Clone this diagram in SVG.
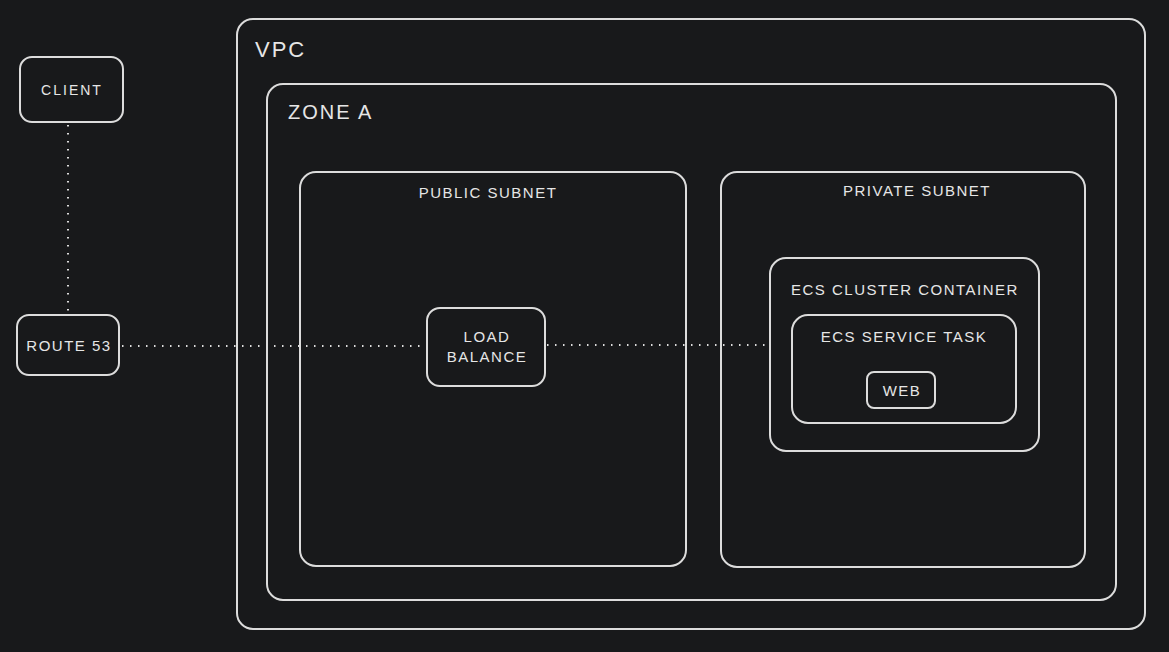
<svg xmlns="http://www.w3.org/2000/svg" width="1169" height="652" viewBox="0 0 1169 652">
<style>
.box{fill:none;stroke:#dcdcdc;stroke-width:2}
.t{fill:#e6e6e6;font-family:"Liberation Sans",Arial,sans-serif;text-anchor:middle;font-size:15px;letter-spacing:1.5px}
.tl{fill:#e6e6e6;font-family:"Liberation Sans",Arial,sans-serif;letter-spacing:2px}
.dot{fill:none;stroke:#dcdcdc;stroke-width:2;stroke-dasharray:1.5 6.5}
</style>
<rect width="1169" height="652" fill="#18191b"/>
<g id="connectors">
<line class="dot" x1="68" y1="125" x2="68" y2="314"/>
<line class="dot" x1="122" y1="346" x2="427" y2="346"/>
<line class="dot" x1="547" y1="345" x2="770" y2="345"/>
</g>
<g id="vpc">
<rect class="box" x="237" y="19" width="908" height="610" rx="16"/>
<text class="tl" x="255" y="57" font-size="22">VPC</text>
</g>
<g id="zone-a">
<rect class="box" x="267" y="84" width="849" height="516" rx="16"/>
<text class="tl" x="288" y="119" font-size="20">ZONE A</text>
</g>
<g id="public-subnet">
<rect class="box" x="300" y="172" width="386" height="394" rx="16"/>
<text class="t" x="488" y="198">PUBLIC SUBNET</text>
</g>
<g id="private-subnet">
<rect class="box" x="721" y="172" width="364" height="395" rx="16"/>
<text class="t" x="917" y="196">PRIVATE SUBNET</text>
</g>
<g id="ecs-cluster">
<rect class="box" x="770" y="258" width="269" height="193" rx="16"/>
<text class="t" x="905" y="295">ECS CLUSTER CONTAINER</text>
</g>
<g id="ecs-service">
<rect class="box" x="792" y="315" width="224" height="108" rx="16"/>
<text class="t" x="904" y="342">ECS SERVICE TASK</text>
</g>
<g id="web">
<rect class="box" x="867" y="372" width="68" height="36" rx="7"/>
<text class="t" x="902" y="396">WEB</text>
</g>
<g id="load-balance">
<rect class="box" x="427" y="308" width="118" height="78" rx="13"/>
<text class="t" x="487" y="342">LOAD</text>
<text class="t" x="487" y="362">BALANCE</text>
</g>
<g id="client">
<rect class="box" x="20" y="57" width="103" height="65" rx="12"/>
<text class="t" x="72" y="95" style="font-size:14px;letter-spacing:2px">CLIENT</text>
</g>
<g id="route53">
<rect class="box" x="17" y="315" width="102" height="60" rx="12"/>
<text class="t" x="69" y="351">ROUTE 53</text>
</g>
</svg>
